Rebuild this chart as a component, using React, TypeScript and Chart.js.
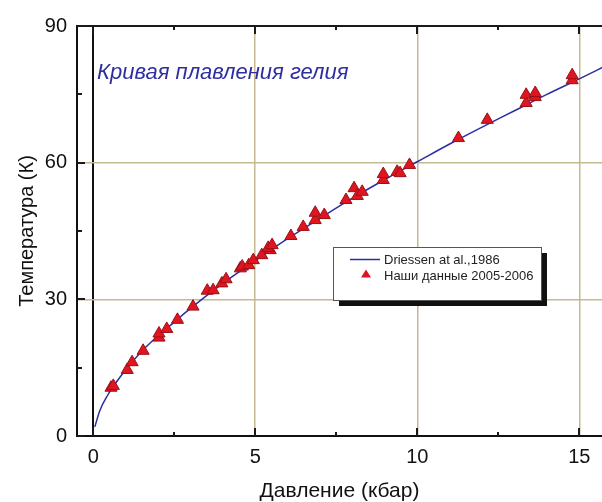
import React, { useEffect, useRef } from "react";
import { Chart, registerables } from "chart.js";

Chart.register(...registerables);

// Measured points: pressure (kbar) and melting temperature (K)
const measuredPressure = [
  0.55, 0.62, 1.05, 1.2, 1.54, 2.03, 2.03, 2.27, 2.6, 3.08, 3.52, 3.7, 3.97, 4.1,
  4.54, 4.6, 4.8, 4.94, 5.2, 5.46, 5.4, 5.52, 6.1, 6.48, 6.85, 6.85, 7.13, 7.8,
  8.05, 8.15, 8.3, 8.95, 8.95, 9.38, 9.47, 9.76, 11.27, 12.16, 13.36, 13.36,
  13.64, 13.64, 14.78, 14.78,
];
const measuredTemperature = [
  10.6, 11, 14.5, 16.2, 18.7, 21.6, 22.5, 23.5, 25.5, 28.4, 31.9, 32, 33.5, 34.4,
  36.8, 37.2, 37.5, 38.6, 39.7, 40.8, 41.3, 41.9, 43.9, 45.9, 47.4, 49, 48.5, 51.8,
  54.4, 52.7, 53.6, 56.2, 57.5, 58, 57.7, 59.5, 65.4, 69.4, 73.1, 74.9, 74.4,
  75.3, 78.1, 79.2,
];

// Driessen et al., 1986 melting curve
const curvePressure = [
  0.05, 0.2, 0.45, 0.7, 1, 1.5, 2, 2.5, 3, 4, 5, 6, 7, 8, 9, 10, 11, 12, 13, 14, 15, 15.8,
];
const curveTemperature = [
  2, 5.5, 9, 11.7, 14.5, 18.6, 22, 25, 28, 33.5, 38.5, 43.3, 47.8, 52.2, 56.3, 60.2,
  64.1, 67.8, 71.4, 75, 78.4, 81.2,
];

const xMin = -0.5;
const xMax = 15.7;
const yMin = 0;
const yMax = 90;
const xMinorTicks = [0, 2.5, 5, 7.5, 10, 12.5, 15];
const yMinorTicks = [0, 15, 30, 45, 60, 75, 90];

const legendLabels = ["Driessen at al.,1986", "Наши данные 2005-2006"];
const annotationText = "Кривая плавления гелия";
const xTitle = "Давление (кбар)";
const yTitle = "Температура (К)";

const FONT = "'Liberation Sans', Arial, sans-serif";
const GRID = "#c6b890";
const LINE_BLUE = "#2b2fa0";
const RED = "#e0151f";

const decorPlugin = {
  id: "decor",
  afterDraw(chart: any) {
    const ctx = chart.ctx;
    const xs = chart.scales.x;
    const ys = chart.scales.y;
    const area = chart.chartArea;
    ctx.save();
    // top border
    ctx.strokeStyle = "#1a1a1a";
    ctx.lineWidth = 2;
    ctx.beginPath();
    ctx.moveTo(area.left - 1, area.top);
    ctx.lineTo(area.right, area.top);
    ctx.stroke();
    // inward ticks
    ctx.lineWidth = 2;
    xMinorTicks.forEach((v) => {
      const px = Math.round(xs.getPixelForValue(v));
      const len = v % 5 === 0 ? 8 : 4;
      ctx.beginPath();
      ctx.moveTo(px, area.bottom);
      ctx.lineTo(px, area.bottom - len);
      ctx.moveTo(px, area.top);
      ctx.lineTo(px, area.top + len);
      ctx.stroke();
    });
    yMinorTicks.forEach((v) => {
      const py = Math.round(ys.getPixelForValue(v));
      const len = v % 30 === 0 ? 8 : 5;
      ctx.beginPath();
      ctx.moveTo(area.left, py);
      ctx.lineTo(area.left + len, py);
      ctx.stroke();
    });
    // annotation
    ctx.fillStyle = "#2e2ea0";
    ctx.font = `italic 22px ${FONT}`;
    ctx.textBaseline = "alphabetic";
    ctx.textAlign = "left";
    ctx.fillText(annotationText, 97, 79);
    // legend box with shadow
    const bx = 333, by = 247, bw = 208, bh = 53;
    ctx.fillStyle = "#111";
    ctx.fillRect(bx + 6, by + 6, bw, bh);
    ctx.fillStyle = "#fff";
    ctx.fillRect(bx, by, bw, bh);
    ctx.strokeStyle = "#555";
    ctx.lineWidth = 1;
    ctx.strokeRect(bx + 0.5, by + 0.5, bw, bh);
    ctx.strokeStyle = LINE_BLUE;
    ctx.lineWidth = 1.5;
    ctx.beginPath();
    ctx.moveTo(350, 259.5);
    ctx.lineTo(380, 259.5);
    ctx.stroke();
    ctx.fillStyle = RED;
    ctx.beginPath();
    ctx.moveTo(366, 269.5);
    ctx.lineTo(371, 277.5);
    ctx.lineTo(361, 277.5);
    ctx.closePath();
    ctx.fill();
    ctx.fillStyle = "#222";
    ctx.font = `13px ${FONT}`;
    ctx.textBaseline = "middle";
    ctx.fillText(legendLabels[0], 384, 260);
    ctx.fillText(legendLabels[1], 384, 276);
    ctx.restore();
  },
};

export default function App() {
  const canvasRef = useRef<HTMLCanvasElement | null>(null);

  useEffect(() => {
    if (!canvasRef.current) return;
    const measured = measuredPressure.map((p, i) => ({ x: p, y: measuredTemperature[i] }));
    const curve = curvePressure.map((p, i) => ({ x: p, y: curveTemperature[i] }));
    const chart = new Chart(canvasRef.current, {
      type: "scatter",
      data: {
        datasets: [
          {
            label: legendLabels[1],
            data: measured,
            pointStyle: "triangle",
            pointRadius: 7,
            backgroundColor: RED,
            borderColor: "#9a1018",
            borderWidth: 1,
            order: 0,
          } as any,
          {
            type: "line",
            label: legendLabels[0],
            data: curve,
            borderColor: LINE_BLUE,
            borderWidth: 1.5,
            pointRadius: 0,
            cubicInterpolationMode: "monotone",
            showLine: true,
            fill: false,
            order: 1,
          } as any,
        ],
      },
      options: {
        responsive: false,
        animation: false,
        layout: { autoPadding: false, padding: { top: 26, right: 0, left: 0, bottom: 0 } },
        plugins: { legend: { display: false }, tooltip: { enabled: false } },
        scales: {
          x: {
            type: "linear",
            min: xMin,
            max: xMax,
            afterFit: (s: any) => { s.height = 66; },
            ticks: {
              stepSize: 5,
              includeBounds: false,
              color: "#111",
              font: { family: FONT, size: 20 },
              padding: 9,
              maxRotation: 0,
            },
            grid: {
              drawTicks: false,
              color: (c: any) => (c.tick && c.tick.value === 0 ? "#111" : GRID),
              lineWidth: (c: any) => (c.tick && c.tick.value === 0 ? 2 : 1.5),
            },
            border: { display: true, color: "#111", width: 2 },
            title: {
              display: true,
              text: xTitle,
              color: "#111",
              font: { family: FONT, size: 21, lineHeight: 1 },
              padding: { top: 0, bottom: 0 },
            },
          },
          y: {
            type: "linear",
            min: yMin,
            max: yMax,
            afterFit: (s: any) => { s.width = 77; },
            ticks: {
              stepSize: 30,
              color: "#111",
              font: { family: FONT, size: 20 },
              padding: 10,
            },
            grid: {
              drawTicks: false,
              color: (c: any) => (c.tick && (c.tick.value === 0 || c.tick.value === 90) ? "rgba(0,0,0,0)" : GRID),
              lineWidth: 1.5,
            },
            border: { display: true, color: "#111", width: 2 },
            title: {
              display: true,
              text: yTitle,
              color: "#111",
              font: { family: FONT, size: 20, lineHeight: 1.2 },
              padding: { top: 15, bottom: 0 },
            },
          },
        },
      },
      plugins: [decorPlugin],
    });
    return () => chart.destroy();
  }, []);

  return (
    <div style={{ position: "absolute", left: 0, top: 0, width: 602, height: 502, background: "#fff" }}>
      <canvas ref={canvasRef} width={602} height={502} />
    </div>
  );
}
